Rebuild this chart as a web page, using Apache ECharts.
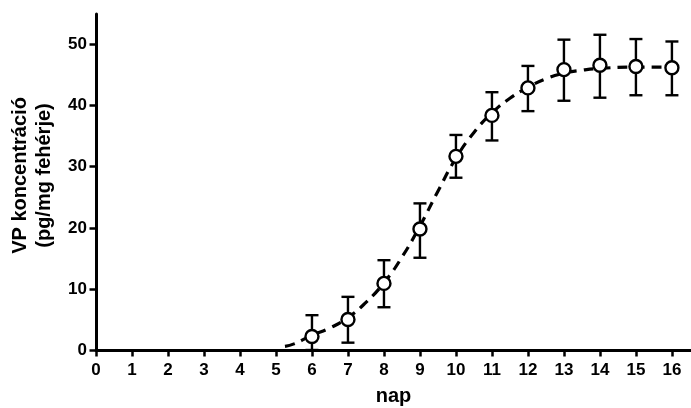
<!DOCTYPE html>
<html>
<head>
<meta charset="utf-8">
<script src="https://cdn.jsdelivr.net/npm/echarts@6/dist/echarts.min.js"></script>
<style>html,body{margin:0;padding:0;background:#fff}#c{width:691px;height:408px}</style>
</head>
<body>
<div id="c"></div>
<script>
// Measured data (day, mean, error bar ends)
const days  = [6, 7, 8, 9, 10, 11, 12, 13, 14, 15, 16];
const means = [2.2, 5.0, 10.9, 19.8, 31.7, 38.4, 42.9, 45.9, 46.6, 46.4, 46.2];
const upper = [5.7, 8.7, 14.7, 24.0, 35.2, 42.2, 46.5, 50.8, 51.6, 50.9, 50.5];
const lower = [0.0, 1.2, 7.0, 15.1, 28.2, 34.3, 39.1, 40.8, 41.3, 41.7, 41.7];
// Fitted dashed curve
const fitX = [5.25, 5.5, 6, 6.5, 7, 7.5, 8, 8.5, 9, 9.5, 10, 10.5, 11, 11.5, 12, 12.5, 13, 13.5, 14, 15, 16];
const fitY = [0.6, 1.0, 2.4, 3.6, 5.3, 7.8, 11.0, 15.2, 20.3, 26.0, 31.4, 35.6, 38.8, 41.2, 43.0, 44.4, 45.3, 45.8, 46.1, 46.3, 46.3];
const xTicks = [0,1,2,3,4,5,6,7,8,9,10,11,12,13,14,15,16];
const yTicks = [0,10,20,30,40,50];

const FONT = '"Liberation Sans", Arial, sans-serif';
const chart = echarts.init(document.getElementById('c'), null, {renderer: 'canvas'});
const axisCommon = {
  axisLine: {show: true, onZero: false, lineStyle: {color: '#000', width: 3}},
  axisTick: {show: true, inside: false, length: 6.5, lineStyle: {color: '#000', width: 2.5}},
  splitLine: {show: false},
  axisLabel: {color: '#000', fontFamily: FONT, fontWeight: 'bold', fontSize: 17},
  nameTextStyle: {color: '#000', fontFamily: FONT, fontWeight: 'bold', fontSize: 20}
};
chart.setOption({
  animation: false,
  backgroundColor: '#fff',
  grid: {left: 96, right: 0, top: 14, bottom: 58, containLabel: false, outerBoundsMode: 'none'},
  xAxis: Object.assign({}, axisCommon, {
    type: 'value', min: 0, max: 16.53,
    name: 'nap', nameLocation: 'middle', nameGap: 36,
    axisTick: Object.assign({}, axisCommon.axisTick, {customValues: xTicks}),
    axisLabel: Object.assign({}, axisCommon.axisLabel, {customValues: xTicks, margin: 12})
  }),
  yAxis: Object.assign({}, axisCommon, {
    type: 'value', min: 0, max: 55,
    name: 'VP koncentráció\n(pg/mg fehérje)', nameLocation: 'middle', nameGap: 40,
    nameTextStyle: Object.assign({}, axisCommon.nameTextStyle, {lineHeight: 24, padding: [0, 0, 0, 13]}),
    axisTick: Object.assign({}, axisCommon.axisTick, {customValues: yTicks}),
    axisLabel: Object.assign({}, axisCommon.axisLabel, {customValues: yTicks, margin: 9})
  }),
  series: [
    {
      type: 'line', z: 1, symbol: 'none', smooth: true,
      data: fitX.map((x, i) => [x, fitY[i]]),
      lineStyle: {color: '#000', width: 3.2, type: [10, 7]}
    },
    {
      type: 'custom', z: 2,
      data: days.map((d, i) => [d, lower[i], upper[i]]),
      renderItem: function (params, api) {
        const x = api.value(0);
        const lo = api.coord([x, api.value(1)]);
        const hi = api.coord([x, api.value(2)]);
        const hw = 6.5;
        const st = {stroke: '#000', lineWidth: 2.4, fill: null};
        return {type: 'group', children: [
          {type: 'line', shape: {x1: lo[0], y1: lo[1], x2: hi[0], y2: hi[1]}, style: st},
          {type: 'line', shape: {x1: hi[0]-hw, y1: hi[1], x2: hi[0]+hw, y2: hi[1]}, style: st},
          {type: 'line', shape: {x1: lo[0]-hw, y1: lo[1], x2: lo[0]+hw, y2: lo[1]}, style: st}
        ]};
      }
    },
    {
      type: 'scatter', z: 3, symbol: 'circle', symbolSize: 13,
      data: days.map((d, i) => [d, means[i]]),
      itemStyle: {color: '#fff', borderColor: '#000', borderWidth: 2.4, opacity: 1}
    }
  ]
});
</script>
</body>
</html>
